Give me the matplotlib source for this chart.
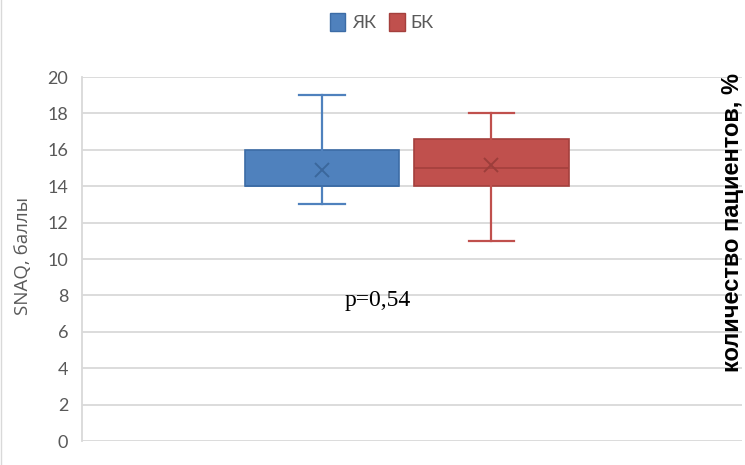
import matplotlib
matplotlib.use("Agg")
import matplotlib.pyplot as plt
from matplotlib.patches import Patch
from matplotlib.lines import Line2D

# Box-plot summaries of SNAQ scores per group
groups = ["ЯК", "БК"]
q1 = [14, 14]
q3 = [16, 16.6]
medians = [14, 15]
means = [14.9, 15.15]
whisker_low = [13, 11]
whisker_high = [19, 18]
p_text = "p=0,54"

yticks = [0, 2, 4, 6, 8, 10, 12, 14, 16, 18, 20]

face_colors = ["#4F81BD", "#C0504D"]
edge_colors = ["#3C6CA6", "#A4403D"]
mean_colors = ["#3B679C", "#9C3E3B"]

fig = plt.figure(figsize=(7.45, 4.65), dpi=100)
ax = fig.add_axes([82 / 745, 1 - 441 / 465, 660 / 745, 364 / 465])

stats = []
for i, g in enumerate(groups):
    stats.append(dict(label=g, q1=q1[i], q3=q3[i], med=medians[i],
                      mean=means[i], whislo=whisker_low[i],
                      whishi=whisker_high[i], fliers=[]))

for i, s in enumerate(stats):
    ax.bxp([s], positions=[i], widths=0.91, capwidths=0.27,
           showmeans=True, patch_artist=True, zorder=3,
           boxprops=dict(facecolor=face_colors[i], edgecolor=edge_colors[i], linewidth=1.2),
           medianprops=dict(color=edge_colors[i], linewidth=1.2),
           whiskerprops=dict(color=face_colors[i], linewidth=1.6),
           capprops=dict(color=face_colors[i], linewidth=1.6),
           meanprops=dict(marker="x", markersize=9.5, markeredgewidth=1.4,
                          markeredgecolor=mean_colors[i], markerfacecolor="none"))

ax.set_xlim(-1.416, 2.478)
ax.set_ylim(0, 20)
ax.set_yticks(yticks)
ax.set_xticks([])
ax.yaxis.grid(True, color="#D9D9D9", linewidth=1.3, zorder=0)
ax.set_axisbelow(True)
for side in ["top", "right", "bottom"]:
    ax.spines[side].set_visible(False)
ax.spines["left"].set_color("#D9D9D9")
ax.spines["left"].set_linewidth(1.3)
ax.tick_params(axis="y", length=0, pad=10, labelsize=13, labelcolor="#595959")
for lbl in ax.get_yticklabels():
    lbl.set_family(["Lato", "DejaVu Sans"])

ax.set_ylabel("SNAQ, баллы", fontsize=13.5, color="#595959",
              family=["Open Sans", "DejaVu Sans"])
ax.yaxis.set_label_coords((32 - 82) / 660, (441 - 256) / 364)

ax.text(0.448, 0.387, p_text, transform=ax.transAxes, ha="center", va="center",
        fontsize=17, family=["Liberation Serif", "DejaVu Serif"], color="black")

fig.text(733 / 745, 1 - 222 / 465, "количество пациентов, %", rotation=90,
         ha="center", va="center", fontsize=17, fontweight="bold",
         family=["Liberation Sans", "DejaVu Sans"], color="black")

handles = [Patch(facecolor=face_colors[i], edgecolor=edge_colors[i], label=g)
           for i, g in enumerate(groups)]
leg = fig.legend(handles=handles, loc="center", bbox_to_anchor=(382 / 745, 1 - 22 / 465),
                 ncol=2, frameon=False, handlelength=0.85, handleheight=1.15,
                 handletextpad=0.35, columnspacing=0.75,
                 prop=dict(family=["Lato", "DejaVu Sans"], size=13))
for t in leg.get_texts():
    t.set_color("#595959")

fig.add_artist(Line2D([0.5 / 745, 0.5 / 745], [0, 1], transform=fig.transFigure,
                      color="#D9D9D9", linewidth=1))

fig.savefig("out.png", dpi=100)
